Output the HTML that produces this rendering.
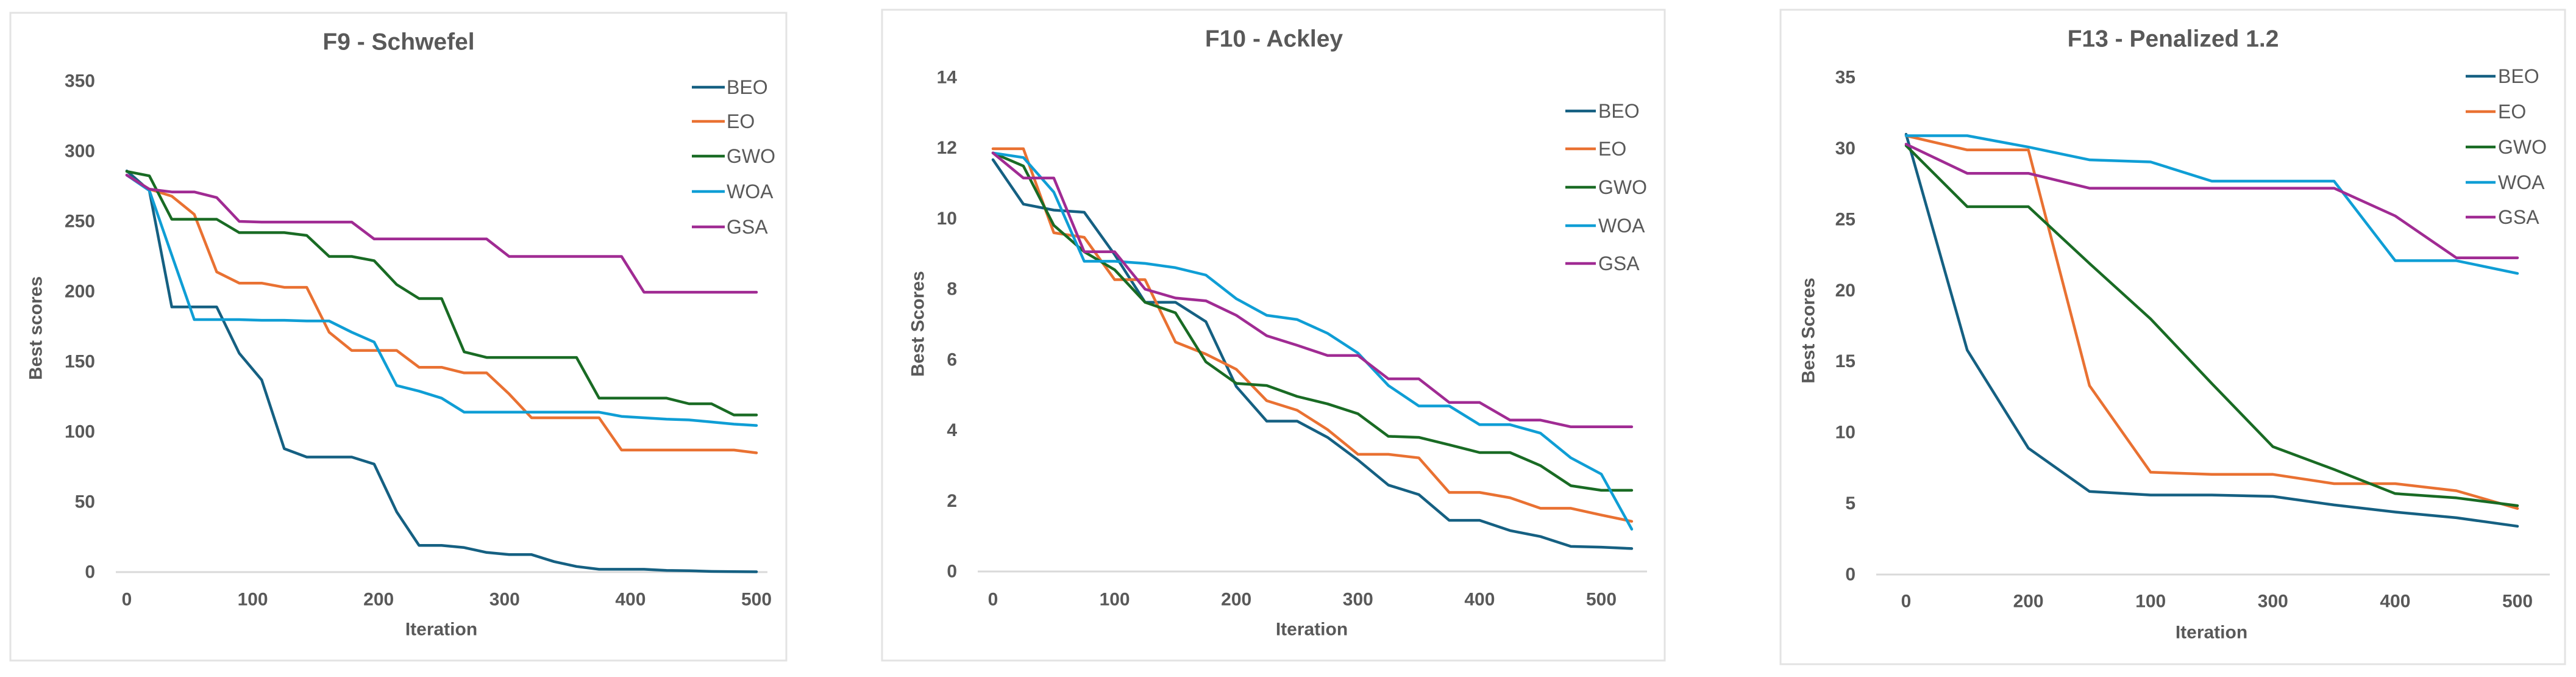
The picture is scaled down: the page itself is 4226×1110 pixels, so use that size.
<!DOCTYPE html>
<html><head><meta charset="utf-8"><style>
html,body{margin:0;padding:0;background:#fff;}
svg{display:block;}
text{font-family:"Liberation Sans",sans-serif;fill:#595959;}
</style></head><body>
<svg id="chart" width="4226" height="1110" viewBox="0 0 4226 1110" xmlns="http://www.w3.org/2000/svg"></svg>
<script>
const seriesNames = ["BEO","EO","GWO","WOA","GSA"];
const seriesColors = ["#156082","#E97132","#196B24","#0F9ED5","#A02B93"];

// Chart 1: F9 - Schwefel
const f9Iter = [0,17.9,35.7,53.6,71.4,89.3,107.1,125,142.9,160.7,178.6,196.4,214.3,232.1,250,267.9,285.7,303.6,321.4,339.3,357.1,375,392.9,410.7,428.6,446.4,464.3,482.1,500];
const f9BEO = [286,272,189,189,189,156,137,88,82,82,82,77,43,19,19,17.5,14,12.5,12.5,7.5,4,2,2,2,1.2,1,0.5,0.3,0.2];
const f9EO  = [283,273,268,255,214,206,206,203,203,171,158,158,158,146,146,142,142,127,110,110,110,110,87,87,87,87,87,87,85];
const f9GWO = [285.6,282.5,251.5,251.5,251.5,242,242,242,240,225,225,222,205,195,195,157,153,153,153,153,153,124,124,124,124,120,120,112,112];
const f9WOA = [283,272,226,180,180,180,179.5,179.5,179,179,171,164,133,129,124,114,114,114,114,114,114,114,111,110,109,108.5,107,105.5,104.5];
const f9GSA = [283,273,271,271,267,250,249.5,249.5,249.5,249.5,249.5,237.5,237.5,237.5,237.5,237.5,237.5,225,225,225,225,225,225,199.5,199.5,199.5,199.5,199.5,199.5];
const f9YTicks = [0,50,100,150,200,250,300,350];
const f9XTicks = [0,100,200,300,400,500];

// Chart 2: F10 - Ackley
const f10Iter = [0,25,50,75,100,125,150,175,200,225,250,275,300,325,350,375,400,425,450,475,500,525];
const f10BEO = [11.67,10.41,10.24,10.18,8.98,7.63,7.63,7.08,5.24,4.26,4.26,3.80,3.16,2.45,2.18,1.45,1.45,1.16,0.99,0.71,0.69,0.65];
const f10EO  = [11.98,11.98,9.6,9.47,8.27,8.27,6.5,6.16,5.73,4.84,4.57,4.02,3.32,3.32,3.22,2.24,2.24,2.09,1.79,1.79,1.6,1.42];
const f10GWO = [11.86,11.49,9.81,9.06,8.55,7.63,7.33,5.94,5.33,5.27,4.96,4.75,4.47,3.83,3.80,3.59,3.37,3.37,3.0,2.43,2.30,2.30];
const f10WOA = [11.86,11.73,10.75,8.79,8.79,8.73,8.61,8.40,7.73,7.26,7.14,6.75,6.19,5.27,4.69,4.69,4.16,4.16,3.92,3.22,2.76,1.2];
const f10GSA = [11.86,11.15,11.15,9.06,9.06,8.0,7.75,7.67,7.26,6.68,6.41,6.12,6.12,5.46,5.46,4.79,4.79,4.29,4.29,4.10,4.10,4.10];
const f10YTicks = [0,2,4,6,8,10,12,14];
const f10XTicks = [0,100,200,300,400,500];

// Chart 3: F13 - Penalized 1.2 (category axis)
const f13Cats = ["0","","200","","100","","300","","400","","500"];
const f13BEO = [31.0,15.8,8.9,5.85,5.6,5.6,5.5,4.9,4.4,4.0,3.4];
const f13EO  = [30.9,29.9,29.9,13.3,7.2,7.05,7.05,6.4,6.4,5.9,4.65];
const f13GWO = [30.2,25.9,25.9,21.9,18.0,13.45,9.0,7.4,5.7,5.4,4.85];
const f13WOA = [30.9,30.9,30.1,29.2,29.05,27.7,27.7,27.7,22.1,22.1,21.2];
const f13GSA = [30.3,28.25,28.25,27.2,27.2,27.2,27.2,27.2,25.25,22.3,22.3];
const f13YTicks = [0,5,10,15,20,25,30,35];

const NS = "http://www.w3.org/2000/svg";
const svg = document.getElementById("chart");
function mk(tag, attrs, parent){
  const e = document.createElementNS(NS, tag);
  for (const k in attrs) e.setAttribute(k, attrs[k]);
  (parent||svg).appendChild(e);
  return e;
}

const layouts = [
  {key:"f9", title:"F9 - Schwefel", ytitle:"Best scores", box:[17,21,1273,1062], titleX:654, titleY:69,
   y0:938, yTop:133, yMax:350, x0:208, x500:1241, axisL:190, axisR:1259, yLabR:156, xLabY:983, itX:724, itY:1032, btX:59, btY:538,
   legL:1135, legR:1189, legT:1192, legY:[143,199,256,314,372]},
  {key:"f10", title:"F10 - Ackley", ytitle:"Best Scores", box:[1447,16,1284,1067], titleX:2090, titleY:64,
   y0:937, yTop:127, yMax:14, x0:1629, x500:2627, axisL:1604, axisR:2702, yLabR:1570, xLabY:983, itX:2152, itY:1032, btX:1506, btY:531,
   legL:2568, legR:2618, legT:2622, legY:[182,244,307,370,432]},
  {key:"f13", title:"F13 - Penalized 1.2", ytitle:"Best Scores", box:[2921,16,1287,1073], titleX:3565, titleY:64,
   y0:942, yTop:127, yMax:35, xFirst:3127, xLast:4130, axisL:3078, axisR:4183, yLabR:3044, xLabY:986, itX:3628, itY:1037, btX:2967, btY:542,
   legL:4045, legR:4094, legT:4098, legY:[125,183,241,299,356]}
];

const chartData = {
  f9:{x:f9Iter, s:[f9BEO,f9EO,f9GWO,f9WOA,f9GSA], yt:f9YTicks, xt:f9XTicks},
  f10:{x:f10Iter, s:[f10BEO,f10EO,f10GWO,f10WOA,f10GSA], yt:f10YTicks, xt:f10XTicks},
  f13:{cats:f13Cats, s:[f13BEO,f13EO,f13GWO,f13WOA,f13GSA], yt:f13YTicks}
};

layouts.forEach(L => {
  const d = chartData[L.key];
  const g = mk("g", {});
  
  
  const b = mk("rect", {x:L.box[0], y:L.box[1], width:L.box[2], height:L.box[3], fill:"#fff", stroke:"#e3e3e3", "stroke-width":3}, g);
  
  
  const yS = v => L.y0 + (L.yTop - L.y0) * v / L.yMax;
  let xS;
  if (d.cats) {
    const n = d.cats.length;
    xS = i => L.xFirst + (L.xLast - L.xFirst) * i / (n - 1);
  } else {
    xS = v => L.x0 + (L.x500 - L.x0) * v / 500;
  }
  const t = mk("text", {x:L.titleX, y:L.titleY, "text-anchor":"middle", "dominant-baseline":"central", "font-size":39, "font-weight":"bold"}, g);
  t.textContent = L.title;
  
  
  const ax = mk("line", {x1:L.axisL, x2:L.axisR, y1:L.y0, y2:L.y0, stroke:"#d9d9d9", "stroke-width":3}, g);
  
  
  d.yt.forEach(v => {
    const e = mk("text", {x:L.yLabR, y:yS(v), "text-anchor":"end", "dominant-baseline":"central", "font-size":30, "font-weight":"bold"}, g);
    e.textContent = v;
    
    
  });
  if (d.cats) {
    d.cats.forEach((c, i) => {
      if (!c) return;
      const e = mk("text", {x:xS(i), y:L.xLabY, "text-anchor":"middle", "dominant-baseline":"central", "font-size":30, "font-weight":"bold"}, g);
      e.textContent = c;
      
      
    });
  } else {
    d.xt.forEach(v => {
      const e = mk("text", {x:xS(v), y:L.xLabY, "text-anchor":"middle", "dominant-baseline":"central", "font-size":30, "font-weight":"bold"}, g);
      e.textContent = v;
      
      
    });
  }
  const it = mk("text", {x:L.itX, y:L.itY, "text-anchor":"middle", "dominant-baseline":"central", "font-size":30, "font-weight":"bold"}, g);
  it.textContent = "Iteration";
  
  
  const bt = mk("text", {x:L.btX, y:L.btY, "text-anchor":"middle", "dominant-baseline":"central", "font-size":30, "font-weight":"bold", transform:"rotate(-90 "+L.btX+" "+L.btY+")"}, g);
  bt.textContent = L.ytitle;
  
  
  d.s.forEach((vals, si) => {
    const pts = vals.map((v, i) => (d.cats ? xS(i) : xS(d.x[i])).toFixed(1) + "," + yS(v).toFixed(1)).join(" ");
    const p = mk("polyline", {points:pts, fill:"none", stroke:seriesColors[si], "stroke-width":4.5, "stroke-linejoin":"round", "stroke-linecap":"round"}, g);
    
    
    const ly = L.legY[si];
    const lg = mk("g", {}, g);
    
    
    mk("line", {x1:L.legL, x2:L.legR, y1:ly, y2:ly, stroke:seriesColors[si], "stroke-width":4.5}, lg);
    const lt = mk("text", {x:L.legT, y:ly, "dominant-baseline":"central", "font-size":32}, lg);
    lt.textContent = seriesNames[si];
  });
});
</script>
</body></html>
